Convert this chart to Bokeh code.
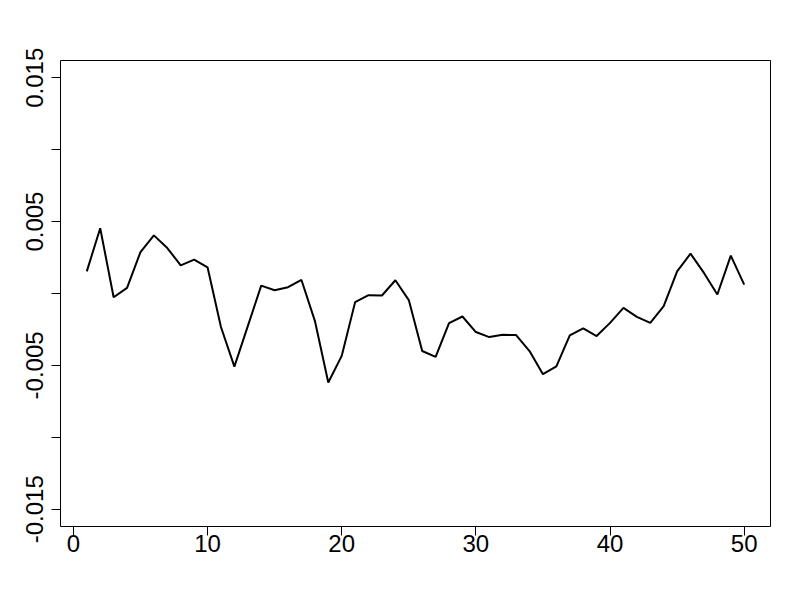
from bokeh.plotting import figure
from bokeh.models import Range1d, FixedTicker
from bokeh.embed import file_html
from bokeh.resources import INLINE

x_vals = list(range(1, 51))
y_vals = [0.00154, 0.00454, -0.00026, 0.00039, 0.00288, 0.00404, 0.00316, 0.00196, 0.00235, 0.00182,
          -0.00233, -0.00508, -0.00227, 0.00055, 0.00023, 0.00044, 0.00094, -0.00190, -0.00619, -0.00434,
          -0.00060, -0.00012, -0.00014, 0.00092, -0.00046, -0.00400, -0.00441, -0.00206, -0.00160, -0.00268,
          -0.00303, -0.00287, -0.00289, -0.00400, -0.00561, -0.00506, -0.00291, -0.00242, -0.00296, -0.00204,
          -0.00100, -0.00162, -0.00204, -0.00088, 0.00154, 0.00277, 0.00143, -0.00007, 0.00263, 0.00062]

x_ticks = [0, 10, 20, 30, 40, 50]
y_ticks = [-0.015, -0.01, -0.005, 0.0, 0.005, 0.01, 0.015]
y_tick_labels = ["-0.015", "", "-0.005", "", "0.005", "", "0.015"]

p = figure(width=790, height=590, output_backend="svg", toolbar_location=None,
           x_range=Range1d(-0.96, 51.96), y_range=Range1d(-0.0162, 0.0162),
           min_border_left=60, min_border_right=20, min_border_top=60, min_border_bottom=64)

p.line(x_vals, y_vals, line_color="black", line_width=2)

p.xgrid.visible = False
p.ygrid.visible = False
p.outline_line_color = "black"
p.outline_line_width = 1
p.background_fill_color = "white"
p.border_fill_color = "white"

for ax in (p.xaxis[0], p.yaxis[0]):
    ax.axis_line_color = None
    ax.major_tick_line_color = "black"
    ax.major_tick_out = 9
    ax.major_tick_in = 0
    ax.minor_tick_line_color = None
    ax.major_label_text_font = "Liberation Sans"
    ax.major_label_text_font_size = "24px"
    ax.major_label_text_color = "black"

p.xaxis[0].ticker = FixedTicker(ticks=x_ticks)
p.xaxis[0].major_label_overrides = {t: str(t) for t in x_ticks}
p.xaxis[0].major_label_standoff = -1

p.yaxis[0].ticker = FixedTicker(ticks=y_ticks)
p.yaxis[0].major_label_overrides = {t: l for t, l in zip(y_ticks, y_tick_labels)}
p.yaxis[0].major_label_orientation = "vertical"
p.yaxis[0].major_label_standoff = 8

open("out.html", "w").write(file_html(p, INLINE))
